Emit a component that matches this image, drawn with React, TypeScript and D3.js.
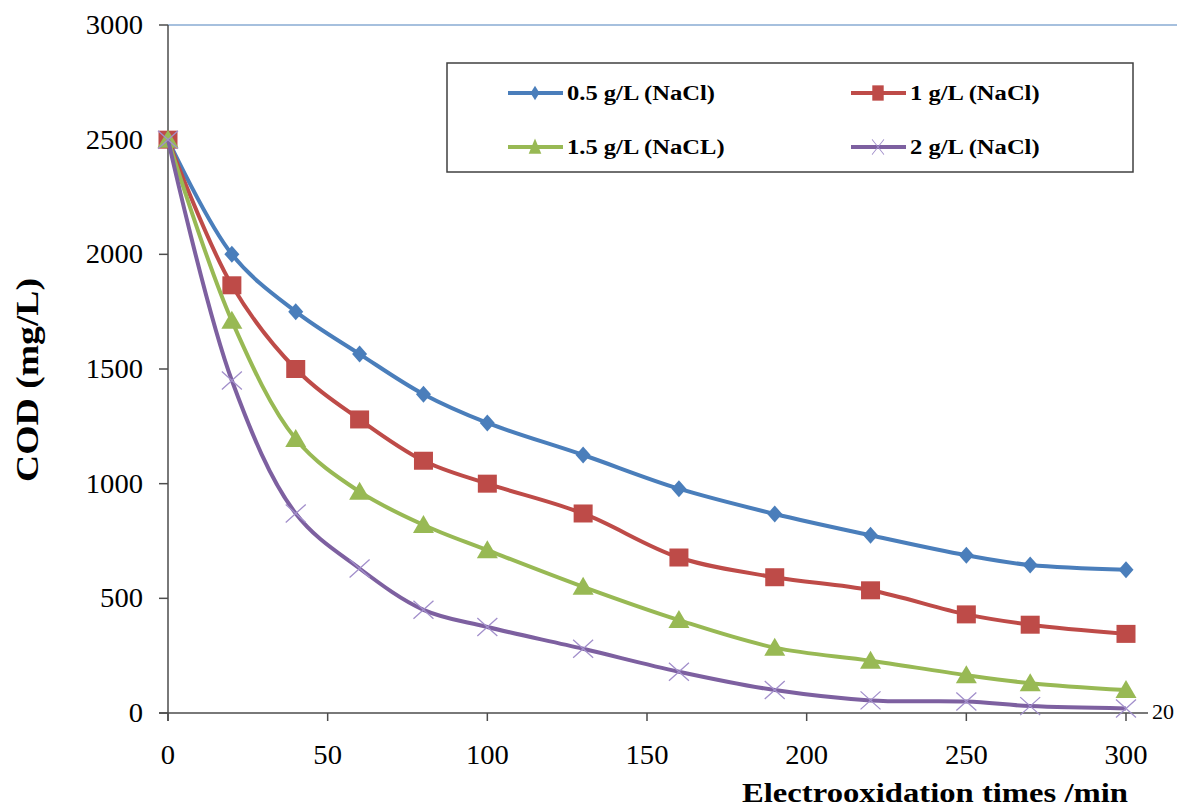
import React from "react";
import * as d3 from "d3";

const times = [0, 20, 40, 60, 80, 100, 130, 160, 190, 220, 250, 270, 300];
const cod05 = [2500, 2000, 1750, 1565, 1390, 1265, 1125, 978, 868, 775, 688, 645, 625];
const cod10 = [2500, 1865, 1500, 1280, 1100, 1000, 870, 678, 592, 535, 430, 385, 345];
const cod15 = [2500, 1710, 1195, 965, 820, 710, 550, 405, 285, 228, 165, 130, 100];
const cod20 = [2500, 1450, 870, 630, 450, 375, 280, 180, 100, 55, 50, 30, 20];
const seriesNames = ["0.5 g/L (NaCl)", "1 g/L (NaCl)", "1.5 g/L (NaCL)", "2 g/L (NaCl)"];
const seriesColors = ["#4A7EBB", "#BE4B48", "#98B954", "#7D60A0"];
const markerKinds = ["diamond", "square", "triangle", "x"];
const xTicks = [0, 50, 100, 150, 200, 250, 300];
const yTicks = [0, 500, 1000, 1500, 2000, 2500, 3000];

const W = 1177, H = 812;
const x = d3.scaleLinear().domain([0, 300]).range([168, 1126]);
const y = d3.scaleLinear().domain([0, 3000]).range([713, 25]);

function Marker({ kind, cx, cy, color, sx = 1, sy = 1 }: { kind: string; cx: number; cy: number; color: string; sx?: number; sy?: number }) {
  const tr = `translate(${cx},${cy}) scale(${sx},${sy})`;
  if (kind === "diamond") {
    return <path transform={tr} d={`M0,-8.5L7.5,0L0,8.5L-7.5,0Z`} fill={color} />;
  }
  if (kind === "square") {
    return <rect transform={tr} x={-9.5} y={-9} width={19} height={18} fill={color} />;
  }
  if (kind === "triangle") {
    return <path transform={tr} d={`M0,-10L10.5,8L-10.5,8Z`} fill={color} />;
  }
  return (
    <path
      transform={tr}
      d={`M-10,-9L10,9M-10,9L10,-9`}
      stroke="#A28FCB"
      strokeWidth={1.3}
      fill="none"
    />
  );
}

export default function App() {
  const data = [cod05, cod10, cod15, cod20];
  const line = d3
    .line<number>()
    .x((_, i) => x(times[i]))
    .y((d) => y(d))
    .curve(d3.curveCatmullRom.alpha(0.5));

  const legendPos = [
    { lx: 508, ly: 93 },
    { lx: 851, ly: 93 },
    { lx: 508, ly: 147 },
    { lx: 851, ly: 147 },
  ];
  const axisColor = "#4D4D4D";
  const font = "'Liberation Serif', 'Times New Roman', serif";

  return (
    <svg width={W} height={H} style={{ position: "absolute", left: 0, top: 0, background: "#fff" }}>
      <rect x={0} y={0} width={W} height={H} fill="#fff" />
      <line x1={168} x2={W} y1={y(3000)} y2={y(3000)} stroke="#4F81BD" strokeWidth={1.2} />
      <line x1={168} x2={168} y1={y(3000)} y2={721} stroke={axisColor} strokeWidth={1.5} />
      {yTicks.map((t) => (
        <g key={"y" + t}>
          <line x1={159} x2={168} y1={y(t)} y2={y(t)} stroke={axisColor} strokeWidth={1.5} />
          <text
            transform={`translate(143,${y(t) + 9}) scale(1.06,1)`}
            textAnchor="end"
            fontFamily={font}
            fontSize={27}
            fill="#000"
          >
            {t}
          </text>
        </g>
      ))}
      <line x1={159} x2={1148} y1={713} y2={713} stroke={axisColor} strokeWidth={1.5} />
      {xTicks.map((t) => (
        <g key={"x" + t}>
          <line x1={x(t)} x2={x(t)} y1={713} y2={721} stroke={axisColor} strokeWidth={1.5} />
          <text
            transform={`translate(${x(t)},764) scale(1.06,1)`}
            textAnchor="middle"
            fontFamily={font}
            fontSize={27}
            fill="#000"
          >
            {t}
          </text>
        </g>
      ))}
      {data.map((vals, si) => (
        <g key={"s" + si}>
          <path d={line(vals) || ""} fill="none" stroke={seriesColors[si]} strokeWidth={4} strokeLinejoin="round" />
          {vals.map((v, i) => (
            <Marker key={i} kind={markerKinds[si]} cx={x(times[i])} cy={y(v)} color={seriesColors[si]} />
          ))}
        </g>
      ))}
      <text x={1152} y={719} fontFamily={font} fontSize={22} fill="#000">
        20
      </text>
      <rect x={447} y={63} width={686} height={109} fill="#fff" stroke="#404040" strokeWidth={1.5} />
      {seriesNames.map((name, si) => {
        const { lx, ly } = legendPos[si];
        return (
          <g key={"l" + si}>
            <line x1={lx} x2={lx + 55} y1={ly} y2={ly} stroke={seriesColors[si]} strokeWidth={4} />
            <Marker kind={markerKinds[si]} cx={lx + 27} cy={ly} color={seriesColors[si]} sx={0.6} sy={0.85} />
            <text
              transform={`translate(${lx + 59},${ly + 7}) scale(1.17,1)`}
              fontFamily={font}
              fontWeight="bold"
              fontSize={21}
              fill="#000"
            >
              {name}
            </text>
          </g>
        );
      })}
      <text
        transform="translate(38,380) scale(1.3,1) rotate(-90)"
        textAnchor="middle"
        fontFamily={font}
        fontWeight="bold"
        fontSize={25}
        textLength={204}
        lengthAdjust="spacingAndGlyphs"
        fill="#000"
      >
        COD (mg/L)
      </text>
      <text
        x={742}
        y={802}
        fontFamily={font}
        fontWeight="bold"
        fontSize={27}
        textLength={386}
        lengthAdjust="spacingAndGlyphs"
        fill="#000"
      >
        Electrooxidation times /min
      </text>
    </svg>
  );
}
